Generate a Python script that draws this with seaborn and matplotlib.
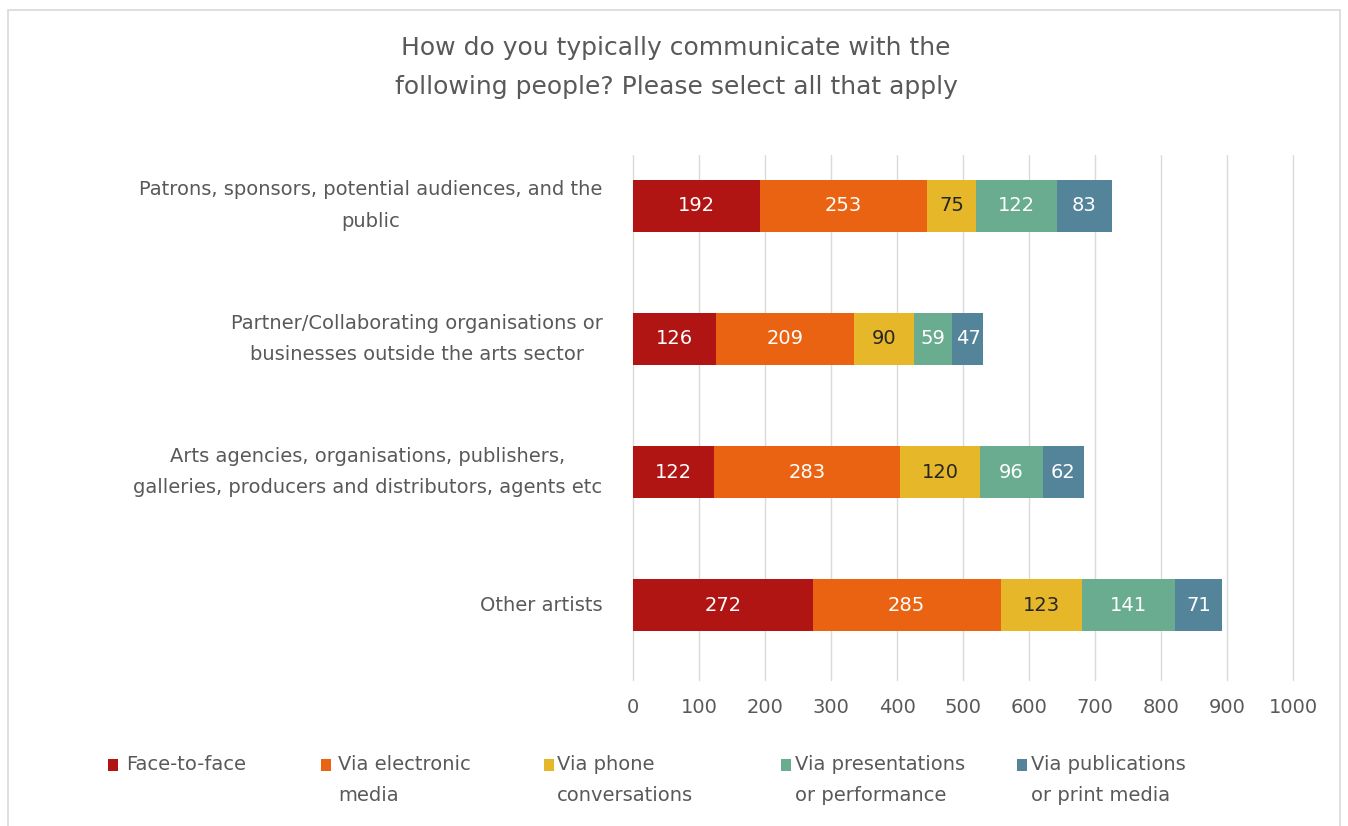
import matplotlib
matplotlib.use("Agg")
import matplotlib.pyplot as plt
import seaborn as sns
import pandas as pd
import numpy as np
from matplotlib.patches import Rectangle

# Survey categories (top to bottom) and the five communication channels
categories = [
    "Patrons, sponsors, potential audiences, and the\npublic",
    "Partner/Collaborating organisations or\nbusinesses outside the arts sector",
    "Arts agencies, organisations, publishers,\ngalleries, producers and distributors, agents etc",
    "Other artists",
]
legend_labels = [
    "Face-to-face",
    "Via electronic\nmedia",
    "Via phone\nconversations",
    "Via presentations\nor performance",
    "Via publications\nor print media",
]
face_to_face = [192, 126, 122, 272]
electronic_media = [253, 209, 283, 285]
phone = [75, 90, 120, 123]
presentations = [122, 59, 96, 141]
publications = [83, 47, 62, 71]
x_ticks = [0, 100, 200, 300, 400, 500, 600, 700, 800, 900, 1000]
title = "How do you typically communicate with the\nfollowing people? Please select all that apply"

series = [face_to_face, electronic_media, phone, presentations, publications]
colors = ["#B01513", "#EA6312", "#E6B729", "#6AAC90", "#54849A"]
value_colors = ["white", "white", "#262626", "white", "white"]
text_gray = "#595959"

W, H = 1348, 826
sns.set_theme(style="white")
plt.rcParams["font.family"] = ["DejaVu Sans"]

fig = plt.figure(figsize=(W / 100, H / 100), dpi=100)
fig.patch.set_facecolor("white")
ax = fig.add_axes([633 / W, 1 - 680 / H, 660 / W, 525 / H])

vals = np.array(series, dtype=float)
cum = np.cumsum(vals, axis=0)

# stacked bars: draw the longest cumulative total first, then overlay shorter ones
for i in range(len(series) - 1, -1, -1):
    df = pd.DataFrame({"category": categories, "total": cum[i]})
    sns.barplot(data=df, x="total", y="category", order=categories, orient="h",
                color=colors[i], saturation=1, width=0.39, errorbar=None,
                linewidth=0, ax=ax)

# value labels centred in each segment
for i in range(len(series)):
    for j in range(len(categories)):
        ax.text(cum[i][j] - vals[i][j] / 2, j, f"{int(vals[i][j])}",
                ha="center", va="center", fontsize=14, color=value_colors[i])

ax.set_xlim(0, 1000)
ax.set_ylim(3.56, -0.38)
ax.set_xticks(x_ticks)
ax.set_xticklabels([str(t) for t in x_ticks])
ax.set_xlabel("")
ax.set_ylabel("")
ax.grid(axis="x", color="#DADADA", linewidth=1.0)
ax.grid(axis="y", visible=False)
ax.set_axisbelow(True)
for gl in ax.get_xgridlines():
    gl.set_clip_on(False)
for s in ax.spines.values():
    s.set_visible(False)
ax.tick_params(axis="x", length=0, pad=13, labelsize=14, labelcolor=text_gray)
ax.tick_params(axis="y", length=0, pad=22, labelsize=14, labelcolor=text_gray)
for lab in ax.get_yticklabels():
    lab.set_multialignment("center")
    lab.set_linespacing(1.82)
    lab.set_verticalalignment("center")

# title
fig.text(676 / W, 1 - 67.5 / H, title, ha="center", va="center", fontsize=18,
         color=text_gray, linespacing=1.75, multialignment="center")

# legend: small squares followed by wrapped labels
square_x = [108, 321, 544, 781, 1017]
text_x = [126, 338, 557, 795, 1031]
for k in range(len(series)):
    fig.add_artist(Rectangle((square_x[k] / W, 1 - 771 / H), 10 / W, 12 / H,
                             transform=fig.transFigure, facecolor=colors[k],
                             edgecolor="none"))
    fig.text(text_x[k] / W, 1 - 755 / H, legend_labels[k], ha="left", va="top",
             fontsize=14, color=text_gray, linespacing=1.82)

# chart frame
fig.add_artist(Rectangle((8 / W, -0.01), 1332 / W, 1 - 10 / H + 0.01,
                         transform=fig.transFigure, facecolor="none",
                         edgecolor="#D9D9D9", linewidth=1.2))

fig.savefig("out.png", dpi=100, facecolor="white")
